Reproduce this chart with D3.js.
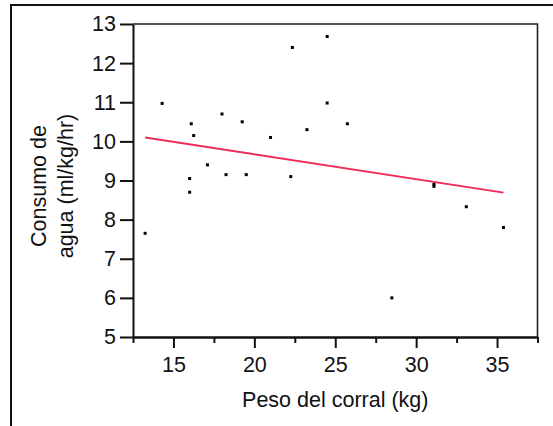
<!DOCTYPE html>
<html>
<head>
<meta charset="utf-8">
<script src="https://cdn.jsdelivr.net/npm/d3@7"></script>
<style>
  body { margin: 0; background: #fff; }
  text { font-family: "Liberation Sans", Arial, sans-serif; fill: #111; }
</style>
</head>
<body>
<div id="chart"></div>
<script>
// data
var peso = [13.25, 14.3, 16.0, 16.0, 16.1, 16.25, 17.1, 18.0, 18.25, 19.25, 19.5, 21.0,
            22.25, 22.35, 23.25, 24.5, 24.5, 25.75, 28.5, 31.1, 31.1, 33.1, 35.4];
var consumo = [7.65, 10.97, 9.05, 8.7, 10.45, 10.15, 9.4, 10.7, 9.15, 10.5, 9.15, 10.1,
               9.1, 12.4, 10.3, 12.68, 10.98, 10.45, 6.0, 8.9, 8.85, 8.33, 7.8];
var fitX = [13.25, 35.4];
var fitY = [10.1, 8.69];
var xTicks = [15, 20, 25, 30, 35];
var xMinor = [12.5, 17.5, 22.5, 27.5, 32.5, 37.5];
var yTicks = [5, 6, 7, 8, 9, 10, 11, 12, 13];

var W = 553, H = 426;
var plotL = 133, plotR = 537.5, plotT = 24, plotB = 337;
var fs = "21.5px";

var svg = d3.select("#chart").append("svg")
    .attr("width", W)
    .attr("height", H);

// outer frame (runs off the right and bottom edge)
svg.append("rect")
    .attr("x", 11).attr("y", 5)
    .attr("width", 580).attr("height", 460)
    .attr("fill", "none")
    .attr("stroke", "#111")
    .attr("stroke-width", 2);

var x = d3.scaleLinear().domain([12.5, 37.5]).range([plotL, plotR]);
var y = d3.scaleLinear().domain([5, 13]).range([plotB, plotT]);

// top and right edges of the plot box
svg.append("path")
    .attr("d", "M" + plotL + "," + plotT + "H" + plotR + "V" + plotB)
    .attr("fill", "none")
    .attr("stroke", "#222")
    .attr("stroke-width", 1.6);

var yAxis = svg.append("g")
    .attr("transform", "translate(" + plotL + ",0)")
    .call(d3.axisLeft(y).tickValues(yTicks).tickSize(13).tickSizeOuter(0).tickPadding(4));

var xMinorAxis = svg.append("g")
    .attr("transform", "translate(0," + plotB + ")")
    .call(d3.axisBottom(x).tickValues(xMinor).tickSize(6).tickSizeOuter(0).tickFormat(""));

var xAxis = svg.append("g")
    .attr("transform", "translate(0," + plotB + ")")
    .call(d3.axisBottom(x).tickValues(xTicks).tickSize(11).tickSizeOuter(0).tickPadding(9));

[yAxis, xAxis, xMinorAxis].forEach(function(g) {
  g.selectAll("path, line").attr("stroke", "#111").attr("stroke-width", 2);
  g.selectAll("text")
    .style("font-family", "'Liberation Sans', Arial, sans-serif")
    .style("font-size", fs)
    .attr("fill", "#111");
});

// regression line
var line = d3.line()
    .x(function(d) { return x(d[0]); })
    .y(function(d) { return y(d[1]); });

svg.append("path")
    .datum(d3.zip(fitX, fitY))
    .attr("d", line)
    .attr("fill", "none")
    .attr("stroke", "#ef2d56")
    .attr("stroke-width", 2);

// points
svg.append("g").selectAll("rect")
    .data(d3.zip(peso, consumo))
    .enter().append("rect")
    .attr("x", function(d) { return x(d[0]) - 1.5; })
    .attr("y", function(d) { return y(d[1]) - 1.5; })
    .attr("width", 3)
    .attr("height", 3)
    .attr("fill", "#000");

// axis titles
svg.append("text")
    .attr("x", (plotL + plotR) / 2)
    .attr("y", 407)
    .attr("text-anchor", "middle")
    .style("font-size", fs)
    .text("Peso del corral (kg)");

var yt = svg.append("text")
    .attr("transform", "translate(0,186) rotate(-90)")
    .attr("text-anchor", "middle")
    .style("font-size", fs);
yt.append("tspan").attr("x", 0).attr("y", 46).text("Consumo de");
yt.append("tspan").attr("x", 0).attr("y", 73).text("agua (ml/kg/hr)");
</script>
</body>
</html>
